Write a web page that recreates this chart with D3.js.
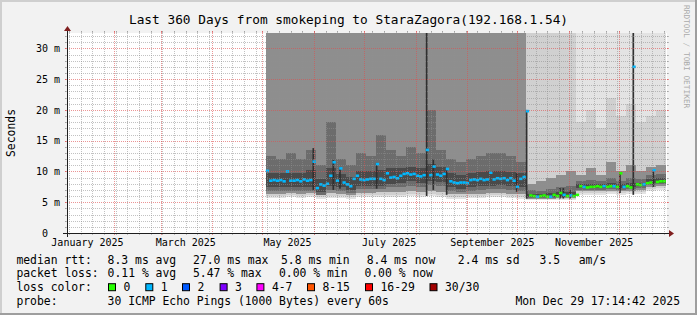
<!DOCTYPE html>
<html lang="en">
<head>
<meta charset="UTF-8">
<script src="https://d3js.org/d3.v7.min.js"></script>
<title>smokeping</title>
<style>
  body { margin: 0; background: #f2f2f2; }
  svg { display: block; }
  svg text { font-family: "DejaVu Sans Mono", monospace; fill: #000; }
</style>
</head>
<body>
<svg width="697" height="315"></svg>
<script>
// graph covers the last 360 days
var startTime = new Date(2025, 0, 3, 17, 14, 42);
var endTime = new Date(2025, 11, 29, 17, 14, 42);
var dataStart = new Date(2025, 4, 3);
var yMax = 32.5;

// median rtt (ms), one value every 2 days from May 3
var median = [
  10.1, 8.5, 8.6, 8.5, 8.6, 8.4, 10.0, 8.5, 8.5, 8.6,
  8.4, 8.7, 8.5, 8.6, 11.6, 7.3, 7.9, 7.7, 8.0, 9.3,
  11.5, 8.5, 10.5, 8.2, 7.9, 7.6, 8.8, 9.3, 8.7, 8.6,
  8.7, 8.8, 8.8, 11.2, 8.8, 8.6, 9.7, 9.0, 9.1, 8.9,
  9.3, 9.6, 9.7, 9.5, 9.6, 9.3, 9.2, 9.4, 13.5, 9.4,
  10.8, 9.5, 9.3, 9.6, 10.4, 8.4, 8.2, 8.1, 8.2, 8.2,
  8.1, 8.6, 8.7, 8.6, 8.8, 8.6, 8.7, 9.8, 8.7, 8.9,
  8.8, 8.9, 8.6, 8.9, 8.5, 7.5, 8.8, 9.1, 19.8, 6.1,
  6.0, 5.9, 6.0, 6.1, 5.9, 5.9, 6.2, 6.0, 6.5, 6.2,
  6.0, 6.1, 6.0, 6.2, 7.6, 7.5, 7.4, 7.5, 7.5, 7.6,
  7.5, 7.6, 7.5, 7.6, 7.6, 7.5, 9.7, 7.5, 7.6, 7.4,
  27.0, 7.9, 7.8, 7.9, 8.1, 8.2, 10.2, 8.3, 8.4, 8.4
];
// lost pings out of 30, same 2-day steps
var lossCount = [
  1,1,1,1,1,1,1,1,1,1, 1,1,1,1,1,1,1,1,1,1,
  1,1,1,1,1,1,1,1,1,1, 1,1,1,1,1,1,1,1,1,1,
  1,1,1,1,1,1,1,1,1,1, 1,1,1,1,1,1,1,1,1,1,
  1,1,1,1,1,1,1,1,1,1, 1,1,1,1,1,1,1,1,1,0,
  0,1,0,0,0,1,0,0,0,1, 0,1,0,0,0,1,0,0,0,0,
  0,1,0,0,1,0,0,1,0,0, 1,0,0,1,0,0,1,0,0,0
];

// smoke: sorted ping ranks (ms), one value every 6 days from May 3
var pingMin = [5.7,5.7,5.8,5.7,5.8,5.5,5.7,5.7,5.5,5.8,5.8,5.8,5.9,5.9,6.0,5.9,6.0,5.9,5.6,5.6,5.7,5.7,5.8,5.8,5.7,5.6, 5.35,5.3,5.35,5.4,5.4, 6.2,6.2,6.2,6.3,6.2,6.3,6.4,6.9,7.0];
var ping4   = [6.0,6.0,6.1,6.0,6.1,5.8,6.0,6.0,5.8,6.1,6.1,6.1,6.2,6.2,6.3,6.2,6.3,6.2,5.9,5.9,6.0,6.0,6.1,6.1,6.0,5.9, 5.5,5.45,5.5,5.5,5.55, 6.5,6.5,6.5,6.6,6.5,6.6,6.7,7.2,7.3];
var ping8   = [6.4,6.4,6.5,6.4,6.5,6.1,6.5,6.4,6.2,6.5,6.5,6.6,6.7,6.7,6.8,6.7,6.8,6.7,6.3,6.3,6.4,6.4,6.5,6.5,6.4,6.3, 5.6,5.55,5.6,5.65,5.7, 6.8,6.8,6.8,6.9,6.8,6.9,7.0,7.5,7.6];
var ping11  = [6.9,6.8,6.8,6.9,6.9,6.2,7.0,6.8,6.5,7.1,7.1,7.1,7.4,7.5,7.7,7.5,7.8,7.6,6.8,6.6,6.8,7.0,7.1,7.2,7.0,6.9, 5.7,5.7,5.75,5.8,5.85, 7.0,7.0,7.0,7.1,7.0,7.2,7.3,7.8,7.9];
var ping14  = [7.5,7.4,7.4,7.5,7.5,6.7,7.6,7.4,7.0,7.7,7.7,7.7,8.0,8.1,8.4,8.1,8.5,8.3,7.4,7.2,7.4,7.6,7.7,7.8,7.6,7.5, 5.85,5.8,5.85,5.9,6.0, 7.3,7.3,7.3,7.4,7.3,7.5,7.6,8.1,8.2];
var ping17  = [9.8,9.7,9.8,9.8,10.2,8.8,10.5,9.6,9.1,10.0,10.0,10.2,10.5,10.5,10.8,10.5,11.2,10.7,9.8,9.4,9.7,9.9,10.0,10.1,9.9,9.8, 6.4,6.3,6.5,6.6,6.7, 7.9,8.0,7.9,8.1,8.0,8.2,8.2,8.8,8.9];
var ping20  = [12.5,12.0,13.0,12.0,13.5,11.0,18.0,12.0,11.0,13.0,12.5,16.0,13.5,12.5,14.0,13.0,20.0,13.5,12.0,11.5,12.0,12.5,13.0,13.0,12.5,11.5, 7.0,6.9,7.2,7.4,7.6, 8.4,8.6,8.4,8.9,8.5,8.9,8.8,9.4,9.6];
var ping23  = [45,45,45,45,45,45,45,45,45,45,45,45,45,45,45,45,45,45,45,45,45,45,45,45,45,45, 8.0,8.5,9.0,9.5,10.0, 9.5,10.5,9.5,11.5,10.0,11.0,10.0,10.8,11.0];
var ping27  = [48,48,48,48,48,48,48,48,48,48,48,48,48,48,48,48,48,48,48,48,48,48,48,48,48,48, 40,40,38,40,36, 18,20,17,22,19,21,18,19,20];
var pingMax = [50,50,50,50,50,50,50,50,50,50,50,50,50,50,50,50,50,50,50,50,50,50,50,50,50,50, 45,45,45,45,45, 45,45,45,45,45,45,45,45,45];

// short bursts where the whole ping spread moved: [2-day index, low ms, high ms]
var spikes = [
  [14, 7.0, 13.8], [20, 7.0, 11.9], [22, 7.2, 10.7], [33, 7.2, 11.4],
  [48, 6.0, 40], [50, 7.0, 12.0], [54, 6.2, 10.5], [75, 6.7, 9.7],
  [78, 5.6, 20.0], [88, 5.6, 7.3], [89, 5.6, 7.3], [91, 5.6, 7.0],
  [106, 6.5, 9.8], [110, 6.2, 40], [116, 7.5, 10.2]
];

var yTicks = [0, 5, 10, 15, 20, 25, 30];
var yTickLabels = ["0  ", "5 m", "10 m", "15 m", "20 m", "25 m", "30 m"];
var xLabelMonths = [new Date(2025, 0, 1), new Date(2025, 2, 1), new Date(2025, 4, 1),
                    new Date(2025, 6, 1), new Date(2025, 8, 1), new Date(2025, 10, 1)];
var xLabels = ["January 2025", "March 2025", "May 2025", "July 2025", "September 2025", "November 2025"];

var lossLabels = ["0", "1", "2", "3", "4-7", "8-15", "16-29", "30/30"];
var lossColors = ["#26ff00", "#00b8ff", "#0059ff", "#7e00ff", "#ff00ff", "#ff5500", "#ff0000", "#a10000"];
var rttStats = ["8.3 ms avg", "27.0 ms max", "5.8 ms min", "8.4 ms now", "2.4 ms sd", "3.5", "am/s"];
var lossStats = ["0.11 % avg", "5.47 % max", "0.00 % min", "0.00 % now"];
var probeText = "30 ICMP Echo Pings (1000 Bytes) every 60s";
var stampText = "Mon Dec 29 17:14:42 2025";

// layout
var W = 697, H = 315;
var plot = {left: 67, top: 33, width: 600, height: 200};
var svg = d3.select("svg");

var x = d3.scaleTime().domain([startTime, endTime]).range([plot.left, plot.left + plot.width]);
var y = d3.scaleLinear().domain([0, yMax]).range([plot.top + plot.height, plot.top]);
var lossColor = d3.scaleThreshold().domain([1, 2, 3, 4, 8, 16, 30]).range(lossColors);

// background + 3d border
svg.append("rect").attr("width", W).attr("height", H).attr("fill", "#f2f2f2");
svg.append("rect").attr("x", 0).attr("y", 0).attr("width", W).attr("height", 2).attr("fill", "#cfcfcf");
svg.append("rect").attr("x", 0).attr("y", 0).attr("width", 2).attr("height", H).attr("fill", "#cfcfcf");
svg.append("rect").attr("x", 0).attr("y", H - 2).attr("width", W).attr("height", 2).attr("fill", "#9e9e9e");
svg.append("rect").attr("x", W - 2).attr("y", 0).attr("width", 2).attr("height", H).attr("fill", "#9e9e9e");

// canvas
svg.append("rect").attr("x", plot.left).attr("y", plot.top)
  .attr("width", plot.width).attr("height", plot.height).attr("fill", "#ffffff");

svg.append("clipPath").attr("id", "clip").append("rect")
  .attr("x", plot.left).attr("y", plot.top).attr("width", plot.width).attr("height", plot.height);

var g = svg.append("g").attr("clip-path", "url(#clip)");

// smoke bands, outer pair first, darker towards the median
var bands = [
  [pingMin, pingMax, "#e3e3e3"],
  [ping4, ping27, "#d0d0d0"],
  [ping8, ping23, "#8e8e8e"],
  [ping11, ping20, "#6c6c6c"],
  [ping14, ping17, "#4a4a4a"]
];
function smokeT(j) { return d3.timeDay.offset(dataStart, 6 * j); }
function medT(i) { return d3.timeDay.offset(dataStart, 2 * i); }

bands.forEach(function(b) {
  g.append("g").selectAll("rect").data(b[0]).enter().append("rect")
    .attr("shape-rendering", "crispEdges")
    .attr("x", function(d, j) { return x(smokeT(j)); })
    .attr("width", function(d, j) { return x(smokeT(j + 1)) - x(smokeT(j)); })
    .attr("y", function(d, j) { return y(Math.min(b[1][j], yMax + 1)); })
    .attr("height", function(d, j) { return y(d) - y(Math.min(b[1][j], yMax + 1)); })
    .attr("fill", b[2]);
});

// dark bursts
g.append("g").selectAll("rect").data(spikes).enter().append("rect")
  .attr("x", function(d) { return x(d3.timeDay.offset(medT(d[0]), 0.5)); })
  .attr("width", function(d) { return x(d3.timeDay.offset(medT(d[0]), 1.6)) - x(d3.timeDay.offset(medT(d[0]), 0.5)); })
  .attr("y", function(d) { return y(Math.min(d[2], yMax + 1)); })
  .attr("height", function(d) { return y(d[1]) - y(Math.min(d[2], yMax + 1)); })
  .attr("fill", "#303030");

// median, coloured by loss
g.append("g").selectAll("rect").data(median).enter().append("rect")
  .attr("x", function(d, i) { return x(medT(i)); })
  .attr("width", function(d, i) { return x(medT(i + 1)) - x(medT(i)); })
  .attr("y", function(d) { return y(d) - 1.3; })
  .attr("height", 2.6)
  .attr("fill", function(d, i) { return lossColor(lossCount[i]); });

// grid
var grid = svg.append("g");
var minorCol = "rgba(143,143,143,0.55)", majorCol = "rgba(222,79,79,0.6)";
var x0 = plot.left, x1 = plot.left + plot.width, yb = plot.top + plot.height, yt = plot.top;

function hLine(v, col) {
  var yy = Math.round(y(v)) + 0.5;
  grid.append("line").attr("x1", x0 - 2).attr("x2", x1 + 2).attr("y1", yy).attr("y2", yy)
    .attr("stroke", col).attr("stroke-dasharray", "1,1");
  grid.append("line").attr("x1", x0 - 2).attr("x2", x0).attr("y1", yy).attr("y2", yy).attr("stroke", col);
  grid.append("line").attr("x1", x1).attr("x2", x1 + 2).attr("y1", yy).attr("y2", yy).attr("stroke", col);
}
function vLine(t, col) {
  var xx = Math.round(x(t)) + 0.5;
  grid.append("line").attr("x1", xx).attr("x2", xx).attr("y1", yt - 2).attr("y2", yb + 2)
    .attr("stroke", col).attr("stroke-dasharray", "1,1");
  grid.append("line").attr("x1", xx).attr("x2", xx).attr("y1", yb).attr("y2", yb + 2).attr("stroke", col);
  grid.append("line").attr("x1", xx).attr("x2", xx).attr("y1", yt - 2).attr("y2", yt).attr("stroke", col);
}
d3.range(1, Math.floor(yMax) + 1).filter(function(v) { return v % 5 !== 0; })
  .forEach(function(v) { hLine(v, minorCol); });
d3.timeSunday.range(startTime, endTime).forEach(function(t) { vLine(t, minorCol); });
yTicks.filter(function(v) { return v > 0; }).forEach(function(v) { hLine(v, majorCol); });
d3.timeMonth.range(startTime, endTime).forEach(function(t) { vLine(t, majorCol); });

// axes with arrows
var axisCol = "#1f1f1f", arrowCol = "#801f1f";
svg.append("line").attr("x1", x0 - 4).attr("x2", x1 + 4).attr("y1", yb + 0.5).attr("y2", yb + 0.5).attr("stroke", axisCol);
svg.append("line").attr("x1", x0 + 0.5).attr("x2", x0 + 0.5).attr("y1", yb + 4).attr("y2", yt - 4).attr("stroke", axisCol);
svg.append("path").attr("d", "M" + (x1 + 2) + "," + (yb - 3) + "L" + (x1 + 2) + "," + (yb + 4) + "L" + (x1 + 7) + "," + (yb + 0.5) + "Z").attr("fill", arrowCol);
svg.append("path").attr("d", "M" + (x0 - 3) + "," + (yt - 2) + "L" + (x0 + 4) + "," + (yt - 2) + "L" + (x0 + 0.5) + "," + (yt - 7) + "Z").attr("fill", arrowCol);

// axis labels
svg.append("g").selectAll("text").data(yTicks).enter().append("text")
  .attr("x", x0 - 7).attr("y", function(d) { return y(d) + 3.6; })
  .attr("text-anchor", "end").attr("font-size", "10px").style("white-space", "pre")
  .text(function(d, i) { return yTickLabels[i]; });

svg.append("g").selectAll("text").data(xLabelMonths).enter().append("text")
  .attr("x", function(d) { return x(d3.timeDay.offset(d, 15)); }).attr("y", 246)
  .attr("text-anchor", "middle").attr("font-size", "10px")
  .text(function(d, i) { return xLabels[i]; });

svg.append("text").attr("transform", "translate(14.5," + (yt + plot.height / 2) + ") rotate(-90)")
  .attr("text-anchor", "middle").attr("font-size", "11.4px").text("Seconds");

// title
svg.append("text").attr("x", W / 2).attr("y", 23.5).attr("text-anchor", "middle")
  .attr("font-size", "12.8px").text("Last 360 Days from smokeping to StaraZagora(192.168.1.54)");

// watermark
svg.append("text").attr("transform", "translate(683.7,5) rotate(90)")
  .attr("font-size", "7.8px").style("fill", "#aaaaaa").text("RRDTOOL / TOBI OETIKER");

// legend
var lg = svg.append("g").attr("font-size", "11.4px").style("white-space", "pre");
var rowY = [263.5, 277.3, 291.2, 305.3];
var rttX = [107.6, 193, 281, 366.7, 457.8, 539.6, 578.7];
var lossX = [107.6, 193, 279, 364.4];
var swatchX = [108, 145.3, 182, 219.6, 256.4, 307, 365, 429.5];

lg.append("text").attr("x", 16.4).attr("y", rowY[0]).text("median rtt:");
lg.selectAll(".rtt").data(rttStats).enter().append("text").attr("class", "rtt")
  .attr("x", function(d, i) { return rttX[i]; }).attr("y", rowY[0]).text(function(d) { return d; });

lg.append("text").attr("x", 16.4).attr("y", rowY[1]).text("packet loss:");
lg.selectAll(".pl").data(lossStats).enter().append("text").attr("class", "pl")
  .attr("x", function(d, i) { return lossX[i]; }).attr("y", rowY[1]).text(function(d) { return d; });

lg.append("text").attr("x", 16.4).attr("y", rowY[2]).text("loss color:");
var sw = lg.selectAll(".sw").data(lossLabels).enter().append("g").attr("class", "sw");
sw.append("rect").attr("x", function(d, i) { return swatchX[i] + 0.5; }).attr("y", rowY[2] - 7.5)
  .attr("width", 7).attr("height", 7)
  .attr("fill", function(d, i) { return lossColors[i]; }).attr("stroke", "#000").attr("stroke-width", 1);
sw.append("text").attr("x", function(d, i) { return swatchX[i] + 15.5; }).attr("y", rowY[2])
  .text(function(d) { return d; });

lg.append("text").attr("x", 16.4).attr("y", rowY[3]).text("probe:");
lg.append("text").attr("x", 107.6).attr("y", rowY[3]).text(probeText);
lg.append("text").attr("x", 680).attr("y", rowY[3]).attr("text-anchor", "end").text(stampText);
</script>
</body>
</html>
